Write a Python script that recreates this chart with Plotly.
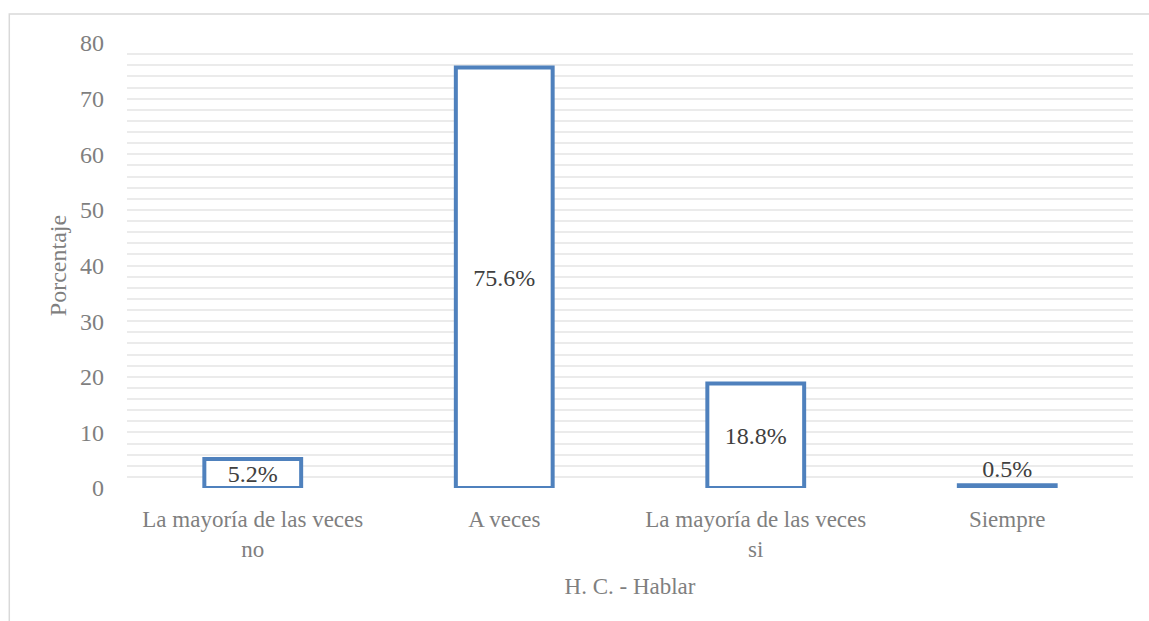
import plotly.graph_objects as go

categorias = ["La mayoría de las veces<br>no", "A veces", "La mayoría de las veces<br>si", "Siempre"]
porcentajes = [5.2, 75.6, 18.8, 0.5]
etiquetas = ["5.2%", "75.6%", "18.8%", "0.5%"]
posicion_texto = ["inside", "inside", "inside", "outside"]

fuente = "Liberation Serif"
azul = "#4f81bd"
gris = "#7f7f7f"

fig = go.Figure(data=[go.Bar(
    x=categorias,
    y=porcentajes,
    text=etiquetas,
    textposition=posicion_texto,
    insidetextanchor='middle',
    constraintext='none',
    cliponaxis=False,
    textfont=dict(family=fuente, size=24, color='#404040'),
    marker=dict(color='white', line=dict(color=azul, width=4)),
    width=0.385,
)])

fig.update_layout(
    width=1149,
    height=621,
    paper_bgcolor='white',
    plot_bgcolor='white',
    margin=dict(l=127, r=16, t=43, b=133),
    showlegend=False,
    font=dict(family=fuente, size=23, color=gris),
    shapes=[dict(
        type='rect', xref='paper', yref='paper',
        x0=-0.117, x1=1.05, y0=-0.5, y1=1.065,
        line=dict(color='#d9d9d9', width=1.5),
        fillcolor='rgba(0,0,0,0)', layer='below',
    )],
)

fig.update_xaxes(
    title=dict(text='H. C. - Hablar', font=dict(size=23, color=gris), standoff=16),
    showline=False,
    ticks='',
    ticklabelstandoff=15,
    tickfont=dict(size=23, color=gris),
)

fig.update_yaxes(
    title=dict(text='Porcentaje', font=dict(size=24, color=gris), standoff=6),
    range=[0, 80],
    dtick=10,
    showgrid=True,
    gridcolor='#ebebeb',
    gridwidth=1.5,
    minor=dict(dtick=2, showgrid=True, gridcolor='#ebebeb', gridwidth=1.5),
    zeroline=False,
    showline=False,
    ticks='',
    ticklabelstandoff=22,
    tickfont=dict(size=24, color=gris),
)

fig.write_html("out.html", config={'displayModeBar': False},
               post_script="document.body.style.margin='0';")
